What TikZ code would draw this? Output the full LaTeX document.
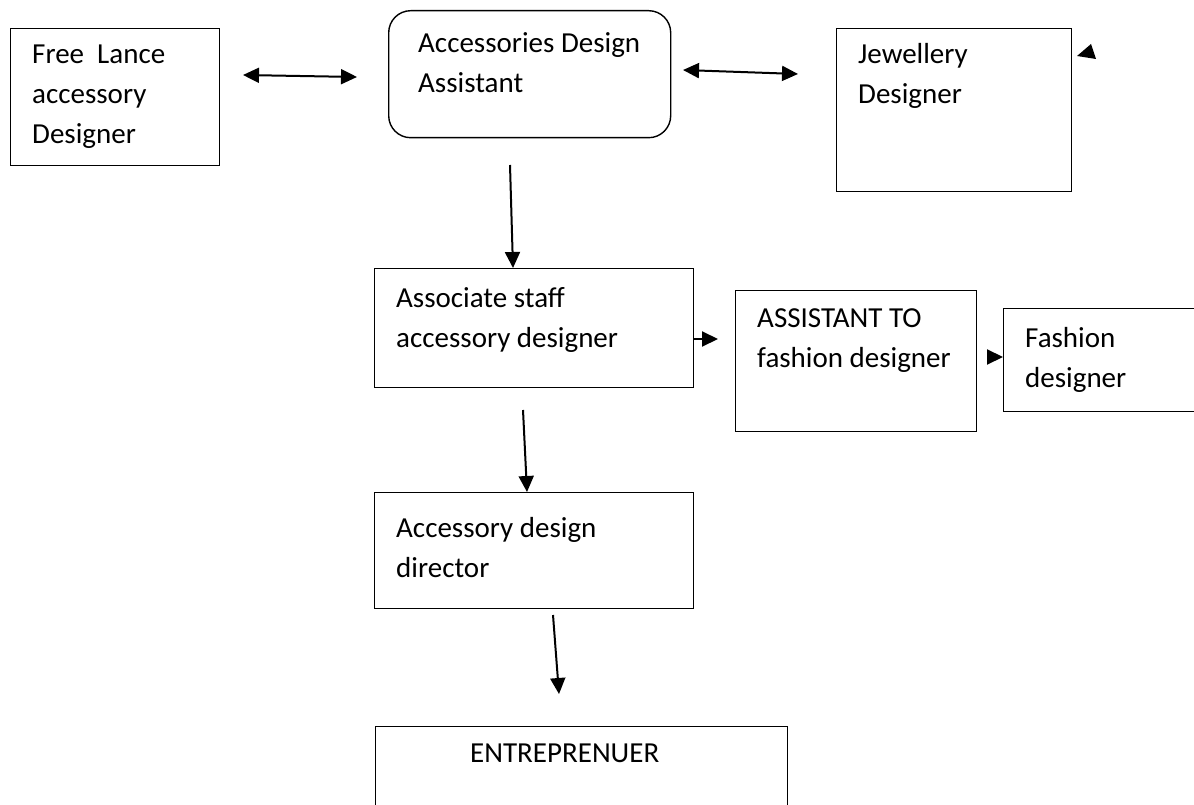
\documentclass[tikz,border=0pt]{standalone}
\usepackage{fontspec}
\setmainfont{Carlito}
\usetikzlibrary{arrows.meta}

\tikzset{
  box/.style={draw, line width=1.4pt, inner sep=0pt, anchor=north west},
  boxtext/.style={anchor=base west, align=left, inner sep=0pt, font=\fontsize{29}{40}\selectfont},
  arr/.style={-{Triangle[length=16pt,width=15pt]}, line width=2pt},
  darr/.style={{Triangle[length=16pt,width=15pt]}-{Triangle[length=16pt,width=15pt]}, line width=2pt}
}

\begin{document}
\begin{tikzpicture}[x=1pt,y=-1pt]
\useasboundingbox (0,0) rectangle (1194,805);
\clip (0,0) rectangle (1194,805);
% boxes
\node[box, minimum width=209pt, minimum height=137pt] (free) at (10,28){};
\node[box, rounded corners=22pt, minimum width=282pt, minimum height=127pt] (assistant) at (388,10){};
\node[box, minimum width=235pt, minimum height=163pt] (jewel) at (836,28){};
\node[box, minimum width=319pt, minimum height=119pt] (associate) at (374,268){};
\node[box, minimum width=241pt, minimum height=141pt] (asstofd) at (735,290){};
\node[box, minimum width=220pt, minimum height=103pt] (fashion) at (1003,308){};
\node[box, minimum width=319pt, minimum height=116pt] (director) at (374,492){};
\node[box, minimum width=412pt, minimum height=120pt] (entre) at (375,726){};
% texts (placed at the baseline of the last line)
\node[boxtext] (free-t) at (32,144){Free\ \ Lance\\accessory\\Designer};
\node[boxtext] (assistant-t) at (418,93){Accessories Design\\Assistant};
\node[boxtext] (jewel-t) at (858,104){Jewellery\\Designer};
\node[boxtext] (associate-t) at (396,347){Associate staff\\accessory designer};
\node[boxtext] (asstofd-t) at (757,367){ASSISTANT TO\\fashion designer};
\node[boxtext] (fashion-t) at (1025,387){Fashion\\designer};
\node[boxtext] (director-t) at (396,577){Accessory design\\director};
\node[boxtext] (entre-t) at (470,762){ENTREPRENUER};
% arrow ends
\coordinate (d1a) at (243,75);
\coordinate (d1b) at (357,77);
\coordinate (d2a) at (683,70);
\coordinate (d2b) at (798,74);
\coordinate (v1a) at (510,165);
\coordinate (v1b) at (513,268);
\coordinate (v2a) at (523,410);
\coordinate (v2b) at (527,492);
\coordinate (v3a) at (553,615);
\coordinate (v3b) at (559,694);
\coordinate (h1b) at (718,339);
\coordinate (h2a) at (987,357);
% arrows
\draw[darr] (d1a) -- (d1b);
\draw[darr] (d2a) -- (d2b);
\draw[arr] (v1a) -- (v1b);
\draw[arr] (associate.east |- h1b) -- (h1b);
\draw[arr] (h2a) -- (h2a -| fashion.west);
\draw[arr] (v2a) -- (v2b);
\draw[arr] (v3a) -- (v3b);
\fill (1077,56) -- (1091,44) -- (1096,59) -- cycle;
\end{tikzpicture}
\end{document}
